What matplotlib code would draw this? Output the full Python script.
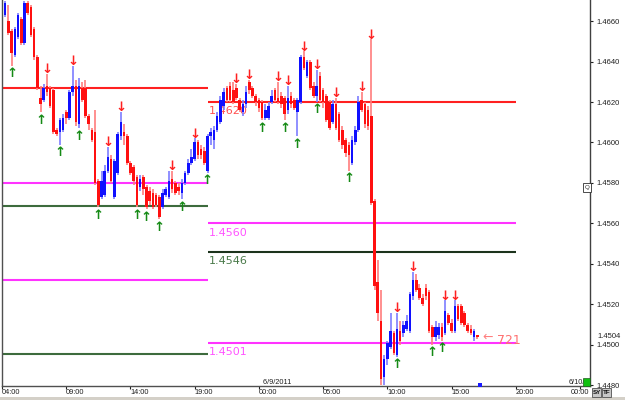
import numpy as np
import matplotlib
matplotlib.use("Agg")
import matplotlib.pyplot as plt
from matplotlib.patches import Rectangle
import matplotlib.transforms as mtransforms

# 15 minute bars, first bar right after 04:00 on 6/8/2011
open_ = [1.4663, 1.4660, 1.4655, 1.4643, 1.4652, 1.4661, 1.4649, 1.4669, 1.4667, 1.4656,
         1.4642, 1.4622, 1.4621, 1.4628, 1.4627, 1.4626, 1.4606, 1.4605, 1.4606, 1.4615,
         1.4612, 1.4625, 1.4628, 1.4609, 1.4627, 1.4627, 1.4613, 1.4606, 1.4605, 1.4581,
         1.4573, 1.4574, 1.4586, 1.4592, 1.4573, 1.4585, 1.4603, 1.4605, 1.4603, 1.4590,
         1.4588, 1.4583, 1.4578, 1.4583, 1.4578, 1.4576, 1.4575, 1.4574, 1.4573, 1.4568,
         1.4574, 1.4573, 1.4582, 1.4580, 1.4578, 1.4575, 1.4580, 1.4585, 1.4590, 1.4592,
         1.4600, 1.4597, 1.4596, 1.4586, 1.4603, 1.4601, 1.4606, 1.4610, 1.4618, 1.4627,
         1.4628, 1.4626, 1.4627, 1.4621, 1.4615, 1.4619, 1.4630, 1.4627, 1.4623, 1.4621,
         1.4620, 1.4612, 1.4612, 1.4620, 1.4626, 1.4622, 1.4623, 1.4622, 1.4616, 1.4623,
         1.4621, 1.4615, 1.4620, 1.4642, 1.4633, 1.4640, 1.4628, 1.4623, 1.4633, 1.4626,
         1.4623, 1.4620, 1.4610, 1.4619, 1.4614, 1.4606, 1.4601, 1.4599, 1.4590, 1.4600,
         1.4606, 1.4621, 1.4619, 1.4616, 1.4613, 1.4571, 1.4531, 1.4512, 1.4484, 1.4493,
         1.4499, 1.4506, 1.4495, 1.4507, 1.4506, 1.4508, 1.4507, 1.4524, 1.4532, 1.4528,
         1.4523, 1.4528, 1.4526, 1.4509, 1.4504, 1.4505, 1.4509, 1.4506, 1.4515, 1.4511,
         1.4507, 1.4519, 1.4519, 1.4516, 1.4510, 1.4508, 1.4504, 1.4505]
high = [1.4670, 1.4668, 1.4656, 1.4657, 1.4664, 1.4662, 1.4670, 1.4670, 1.4668, 1.4657,
        1.4643, 1.4628, 1.4629, 1.4634, 1.4628, 1.4627, 1.4607, 1.4612, 1.4614, 1.4616,
        1.4626, 1.4638, 1.4631, 1.4632, 1.4630, 1.4631, 1.4614, 1.4607, 1.4616, 1.4582,
        1.4586, 1.4589, 1.4598, 1.4594, 1.4592, 1.4605, 1.4615, 1.4609, 1.4604, 1.4591,
        1.4589, 1.4584, 1.4584, 1.4584, 1.4579, 1.4578, 1.4577, 1.4575, 1.4574, 1.4577,
        1.4578, 1.4586, 1.4586, 1.4581, 1.4580, 1.4582, 1.4586, 1.4592, 1.4597, 1.4602,
        1.4601, 1.4599, 1.4598, 1.4604, 1.4607, 1.4608, 1.4615, 1.4623, 1.4627, 1.4628,
        1.4630, 1.4630, 1.4629, 1.4622, 1.4621, 1.4628, 1.4631, 1.4628, 1.4624, 1.4622,
        1.4621, 1.4619, 1.4620, 1.4626, 1.4627, 1.4630, 1.4625, 1.4623, 1.4628, 1.4625,
        1.4622, 1.4622, 1.4643, 1.4645, 1.4641, 1.4641, 1.4630, 1.4636, 1.4635, 1.4627,
        1.4624, 1.4621, 1.4621, 1.4622, 1.4615, 1.4608, 1.4602, 1.4600, 1.4603, 1.4608,
        1.4623, 1.4625, 1.4620, 1.4618, 1.4651, 1.4572, 1.4542, 1.4527, 1.4495, 1.4502,
        1.4516, 1.4507, 1.4516, 1.4512, 1.4512, 1.4515, 1.4526, 1.4536, 1.4535, 1.4530,
        1.4525, 1.4530, 1.4527, 1.4510, 1.4512, 1.4511, 1.4511, 1.4522, 1.4516, 1.4513,
        1.4522, 1.4520, 1.4520, 1.4517, 1.4511, 1.4510, 1.4508, 1.4505]
low = [1.4662, 1.4653, 1.4638, 1.4642, 1.4651, 1.4648, 1.4648, 1.4663, 1.4652, 1.4641,
       1.4626, 1.4615, 1.4620, 1.4623, 1.4617, 1.4604, 1.4603, 1.4599, 1.4605, 1.4609,
       1.4611, 1.4623, 1.4608, 1.4607, 1.4620, 1.4612, 1.4606, 1.4600, 1.4579, 1.4568,
       1.4572, 1.4573, 1.4585, 1.4580, 1.4572, 1.4584, 1.4601, 1.4599, 1.4589, 1.4584,
       1.4579, 1.4568, 1.4576, 1.4574, 1.4567, 1.4569, 1.4567, 1.4568, 1.4562, 1.4567,
       1.4573, 1.4572, 1.4575, 1.4574, 1.4574, 1.4572, 1.4579, 1.4584, 1.4589, 1.4591,
       1.4592, 1.4592, 1.4589, 1.4585, 1.4599, 1.4597, 1.4605, 1.4609, 1.4616, 1.4620,
       1.4620, 1.4619, 1.4621, 1.4615, 1.4613, 1.4617, 1.4624, 1.4622, 1.4618, 1.4615,
       1.4611, 1.4611, 1.4611, 1.4619, 1.4620, 1.4619, 1.4617, 1.4611, 1.4614, 1.4617,
       1.4616, 1.4603, 1.4619, 1.4636, 1.4632, 1.4626, 1.4622, 1.4620, 1.4620, 1.4617,
       1.4610, 1.4606, 1.4609, 1.4606, 1.4600, 1.4597, 1.4593, 1.4586, 1.4589, 1.4599,
       1.4605, 1.4615, 1.4607, 1.4606, 1.4569, 1.4527, 1.4512, 1.4480, 1.4480, 1.4490,
       1.4498, 1.4495, 1.4494, 1.4500, 1.4504, 1.4507, 1.4506, 1.4522, 1.4526, 1.4522,
       1.4519, 1.4522, 1.4506, 1.4500, 1.4502, 1.4503, 1.4502, 1.4505, 1.4510, 1.4506,
       1.4506, 1.4512, 1.4510, 1.4509, 1.4506, 1.4505, 1.4502, 1.4503]
close = [1.4669, 1.4654, 1.4644, 1.4656, 1.4663, 1.4649, 1.4669, 1.4664, 1.4653, 1.4642,
         1.4627, 1.4619, 1.4627, 1.4625, 1.4618, 1.4605, 1.4604, 1.4611, 1.4612, 1.4612,
         1.4625, 1.4628, 1.4610, 1.4628, 1.4621, 1.4613, 1.4609, 1.4601, 1.4580, 1.4569,
         1.4581, 1.4586, 1.4593, 1.4581, 1.4591, 1.4604, 1.4610, 1.4603, 1.4590, 1.4585,
         1.4581, 1.4569, 1.4582, 1.4577, 1.4568, 1.4571, 1.4568, 1.4569, 1.4563, 1.4575,
         1.4577, 1.4581, 1.4577, 1.4575, 1.4576, 1.4580, 1.4585, 1.4590, 1.4593, 1.4600,
         1.4594, 1.4594, 1.4590, 1.4603, 1.4605, 1.4606, 1.4613, 1.4621, 1.4625, 1.4621,
         1.4621, 1.4620, 1.4622, 1.4616, 1.4619, 1.4625, 1.4626, 1.4623, 1.4620, 1.4617,
         1.4612, 1.4616, 1.4618, 1.4623, 1.4621, 1.4620, 1.4619, 1.4614, 1.4622, 1.4619,
         1.4617, 1.4621, 1.4642, 1.4637, 1.4640, 1.4627, 1.4623, 1.4628, 1.4621, 1.4620,
         1.4611, 1.4607, 1.4619, 1.4607, 1.4601, 1.4599, 1.4595, 1.4594, 1.4601, 1.4606,
         1.4620, 1.4616, 1.4609, 1.4608, 1.4570, 1.4529, 1.4516, 1.4483, 1.4493, 1.4501,
         1.4507, 1.4496, 1.4508, 1.4502, 1.4510, 1.4512, 1.4525, 1.4532, 1.4527, 1.4523,
         1.4520, 1.4524, 1.4507, 1.4504, 1.4509, 1.4509, 1.4504, 1.4517, 1.4511, 1.4507,
         1.4519, 1.4513, 1.4511, 1.4510, 1.4507, 1.4506, 1.4507, 1.4504]

# fractal arrows (bar numbers)
up_fractals = [3, 12, 18, 24, 30, 42, 45, 49, 56, 64, 81, 88, 92, 98, 108, 123, 134, 137]
down_fractals = [14, 22, 33, 37, 53, 60, 73, 77, 86, 89, 94, 98, 104, 112, 115, 123, 128, 138, 141]

# daily levels: previous day (ends 20:00 6/8) and current day (20:00 -> 20:00)
prev_levels = [1.4627, 1.4580, 1.45686, 1.4532, 1.44955]
prev_colors = ['#ff2020', '#ff33ff', '#3d6b3d', '#ff33ff', '#3d6b3d']
cur_levels = [1.4620, 1.4560, 1.4546, 1.4501]
cur_colors = ['#ff2020', '#ff33ff', '#1c331c', '#ff33ff']
cur_label_colors = ['#ff5050', '#ff55ff', '#4a7a4a', '#ff55ff']

time_labels = ['04:00', '09:00', '14:00', '19:00', '00:00', '05:00', '10:00', '15:00', '20:00', '00:00']
price_ticks = [1.4480, 1.4500, 1.4520, 1.4540, 1.4560, 1.4580, 1.4600, 1.4620, 1.4640, 1.4660]
countdown = '721'

bars_per_hour = 4
day_break = (20 - 4) * bars_per_hour
day_end = day_break + 24 * bars_per_hour

plt.rcParams['font.family'] = ['Liberation Sans', 'DejaVu Sans']

W, H = 625, 400
fig = plt.figure(figsize=(W / 100, H / 100), dpi=100)
fig.patch.set_facecolor('white')
ax = fig.add_axes([2 / W, 14 / H, 588 / W, 386 / H])
ax.set_facecolor('white')

o = np.array(open_)
h = np.array(high)
l = np.array(low)
c = np.array(close)
x = np.arange(1, len(c) + 1)
bull = c >= o

# level lines first so candles sit on top
for lev, col in zip(prev_levels, prev_colors):
    ax.hlines(lev, -5, day_break, colors=col, lw=1.5, zorder=1)
for lev, col, lcol in zip(cur_levels, cur_colors, cur_label_colors):
    ax.hlines(lev, day_break, day_end, colors=col, lw=1.5, zorder=1)
    ax.annotate(f'{lev:.4f}', xy=(day_break + 0.3, lev), xytext=(0, -3),
                textcoords='offset points', ha='left', va='top',
                fontsize=8, color=lcol, family='DejaVu Sans', zorder=1)

wick_cols = np.where(bull, '#7d7dff', '#ff7d7d')
body_cols = np.where(bull, '#1010ff', '#ff1010')
ax.vlines(x, l, h, colors=wick_cols, lw=1.2, zorder=2)
body_h = np.maximum(np.abs(c - o), 0.00003)
ax.bar(x, body_h, bottom=np.minimum(o, c), width=0.8, color=body_cols,
       linewidth=0, zorder=3)

for i in up_fractals:
    ax.annotate('\u2191', xy=(i, low[i - 1]), xytext=(0, -1), textcoords='offset points',
                ha='center', va='top', fontsize=9.5, fontweight='bold',
                color='#158a15', family='DejaVu Sans', zorder=4)
for i in down_fractals:
    ax.annotate('\u2193', xy=(i, high[i - 1]), xytext=(0, 0.5), textcoords='offset points',
                ha='center', va='baseline', fontsize=9.5, fontweight='bold',
                color='#ff2020', family='DejaVu Sans', zorder=4)

# countdown marker next to the last bar
last = len(c)
ax.annotate('\u2190', xy=(last, c[-1]), xytext=(4, -0.5), textcoords='offset points',
            ha='left', va='center', fontsize=9, color='#ff8080', family='DejaVu Sans')
ax.annotate(countdown, xy=(last, c[-1]), xytext=(14, -2.5), textcoords='offset points',
            ha='left', va='center', fontsize=9, color='#ff7070', family='DejaVu Sans')

ax.set_xlim(0.775, 183.1)
ax.set_ylim(1.44797, 1.46704)

# axes styling
ax.spines['top'].set_visible(False)
ax.spines['left'].set_color('#505050')
ax.spines['bottom'].set_color('#505050')
ax.spines['right'].set_color('#404040')
for s in ['left', 'bottom', 'right']:
    ax.spines[s].set_linewidth(1.0)

ax.yaxis.tick_right()
ax.set_yticks(price_ticks)
ax.set_yticklabels([f'{p:.4f}' for p in price_ticks])
ax.tick_params(axis='y', length=2, pad=3, labelsize=5.5, colors='#202020', width=0.8)

xt = np.arange(len(time_labels)) * 5 * bars_per_hour
ax.set_xticks(xt)
ax.set_xticklabels(time_labels)
for lbl in ax.get_xticklabels():
    lbl.set_ha('left')
ax.get_xticklabels()[-1].set_ha('center')
ax.tick_params(axis='x', length=2, pad=0.5, labelsize=5.3, colors='#202020', width=0.8)

# current price on the right scale
blend = mtransforms.blended_transform_factory(ax.transAxes, ax.transData)
ax.text(1.0 + 7 / 588, c[-1], f'{c[-1]:.4f}', transform=blend, ha='left', va='center',
        fontsize=5.5, color='#202020', clip_on=False)

# date separators text
ax.text(xt[4], 1.44797, '  6/9/2011', ha='left', va='bottom', fontsize=5.3, color='#202020')
ax.text(xt[9] - 3.6, 1.44797, '6/10/2011', ha='left', va='bottom', fontsize=5.3,
        color='#202020', clip_on=True)


def px_rect(x0, y0, x1, y1, **kw):
    r = Rectangle((x0 / W, 1 - y1 / H), (x1 - x0) / W, (y1 - y0) / H,
                  transform=fig.transFigure, **kw)
    fig.add_artist(r)


# terminal decorations
px_rect(0, 397, 625, 400, facecolor='#d4d0c8', edgecolor='none')
px_rect(583, 378, 590, 386, facecolor='#10c010', edgecolor='#206020', lw=0.5)
px_rect(478, 383, 482, 387, facecolor='#1a1aff', edgecolor='none')
px_rect(583, 183, 591, 192, facecolor='white', edgecolor='#303030', lw=0.6)
fig.text(587 / W, 1 - 187.5 / H, 'Q', ha='center', va='center', fontsize=4.5, color='#303030')
px_rect(592, 388, 601, 397, facecolor='#c8c8c8', edgecolor='#505050', lw=0.6)
px_rect(602, 388, 611, 397, facecolor='#c8c8c8', edgecolor='#505050', lw=0.6)
fig.text(596.5 / W, 1 - 392.5 / H, 'SY', ha='center', va='center', fontsize=4.5,
         color='#101010', fontweight='bold')
fig.text(606.5 / W, 1 - 392.5 / H, 'TF', ha='center', va='center', fontsize=4.5,
         color='#101010', fontweight='bold')

fig.savefig('out.png', dpi=100, facecolor='white')
